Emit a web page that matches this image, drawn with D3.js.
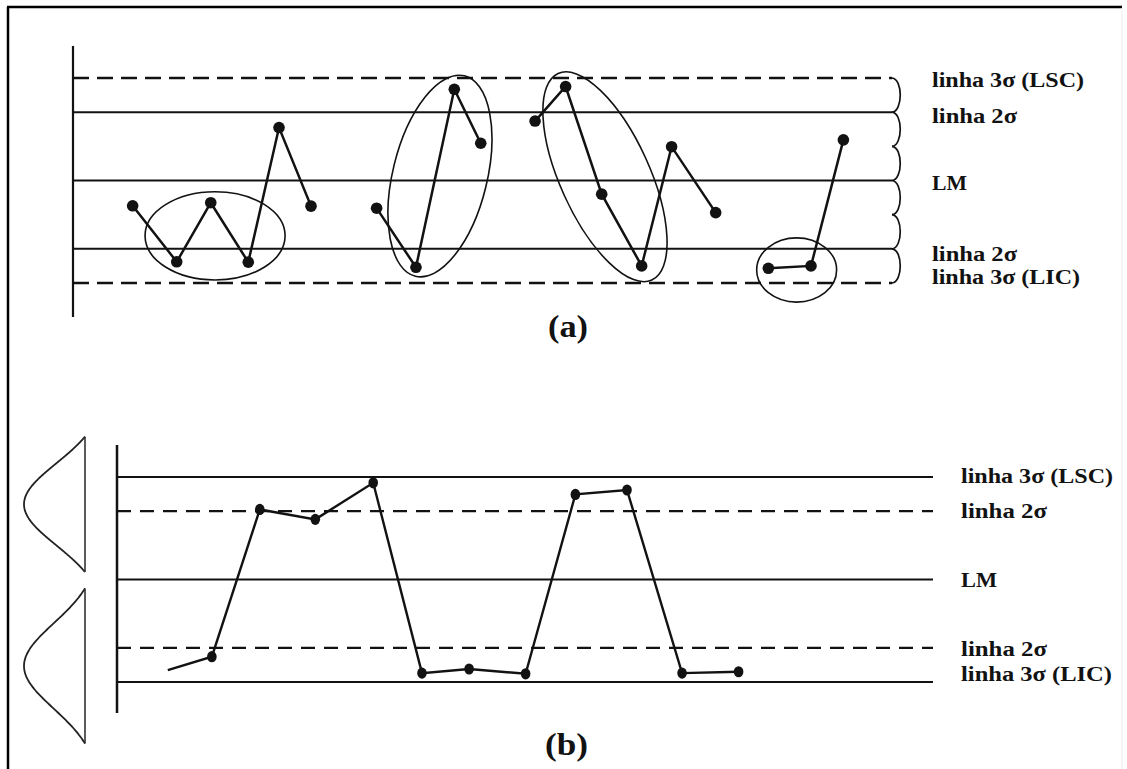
<!DOCTYPE html>
<html><head><meta charset="utf-8">
<script src="https://cdn.jsdelivr.net/npm/d3@7"></script>
<style>body{margin:0;background:#fff}svg{display:block}</style>
</head><body>
<svg id="c" width="1127" height="769"></svg>
<script>
// ---------- data ----------
const limitLevels = [3, 2, 0, -2, -3];            // control lines, in sigma units
const limitLabels = ["linha 3σ (LSC)", "linha 2σ", "LM", "linha 2σ", "linha 3σ (LIC)"];
const aLineDash = [true, false, false, false, true];
const bLineDash = [false, true, false, true, false];
const braceLevels = [3, 2, 1, 0, -1, -2, -3];

// chart (a): sample time, value (sigma), segment id
const aT = [2.91, 5.06, 6.72, 8.55, 10.05, 11.61, 14.81, 16.73, 18.6, 19.89, 22.54, 24.03, 25.79, 27.74, 29.2, 31.35, 33.92, 36.0, 37.58];
const aV = [-0.74, -2.38, -0.65, -2.39, 1.55, -0.75, -0.81, -2.54, 2.67, 1.09, 1.74, 2.75, -0.40, -2.50, 0.99, -0.94, -2.57, -2.50, 1.19];
const aSeg = [0, 0, 0, 0, 0, 0, 1, 1, 1, 1, 2, 2, 2, 2, 2, 2, 3, 3, 3];

// chart (a): ellipses (centre t, centre value, radii in sigma, rotation deg)
const ellT = [6.93, 17.9, 25.95, 35.3];
const ellV = [-1.62, 0.13, 0.11, -2.62];
const ellRx = [2.05, 1.38, 1.31, 1.17];
const ellRy = [1.29, 3.02, 3.32, 0.94];
const ellRot = [0, 13.75, -24.4, 0];

// chart (b)
const bT = [2.49, 4.65, 7.0, 9.72, 12.56, 14.95, 17.26, 20.03, 22.47, 25.0, 27.7, 30.47];
const bV = [-2.65, -2.26, 2.05, 1.76, 2.83, -2.74, -2.62, -2.76, 2.49, 2.62, -2.74, -2.70];
const bDot = [0, 1, 1, 1, 1, 1, 1, 1, 1, 1, 1, 1];

// chart (b): the two process distributions (mean, sd, drawn half-extent; sigma units)
const distMean = [2.2, -2.53];
const distSd = [1.2, 1.25];
const distExtent = [1.98, 2.27];

const panelLabels = ["(a)", "(b)"];

// ---------- layout ----------
const svg = d3.select("#c");
const ink = "#121212";
const font = "'Liberation Serif','Times New Roman',serif";

const ax = d3.scaleLinear().domain([0, 40]).range([73, 893]);
const ay = d3.scaleLinear().domain([-3, 3]).range([283, 78]);
const bx = d3.scaleLinear().domain([0, 40]).range([117, 933]);
const by = d3.scaleLinear().domain([-3, 3]).range([682, 477]);

// frame
svg.append("line").attr("x1", 8).attr("y1", 7).attr("x2", 8).attr("y2", 769).attr("stroke", "#000").attr("stroke-width", 2.5);
svg.append("line").attr("x1", 7).attr("y1", 7).attr("x2", 1122).attr("y2", 7).attr("stroke", "#000").attr("stroke-width", 2.5);
svg.append("line").attr("x1", 1122).attr("y1", 8).attr("x2", 1122).attr("y2", 769).attr("stroke", "#ececec").attr("stroke-width", 1);

// ===== chart (a) =====
const ga = svg.append("g");
ga.append("line").attr("x1", 73).attr("x2", 73).attr("y1", 46).attr("y2", 317).attr("stroke", ink).attr("stroke-width", 2.2);
ga.selectAll("line.lim").data(limitLevels).join("line").attr("class", "lim")
  .attr("x1", ax(0)).attr("x2", ax(40) - 1)
  .attr("y1", d => ay(d)).attr("y2", d => ay(d))
  .attr("stroke", ink).attr("stroke-width", (d, i) => aLineDash[i] ? 2.5 : 2.0)
  .attr("stroke-dasharray", (d, i) => aLineDash[i] ? "16 8" : null);

// braces on the right
const bx0 = ax(40) - 1;
for (let i = 0; i < braceLevels.length - 1; i++) {
  const y1 = ay(braceLevels[i]), y2 = ay(braceLevels[i + 1]);
  ga.append("path")
    .attr("d", `M${bx0},${y1} C${bx0 + 11},${y1 + 1} ${bx0 + 11},${y2 - 1} ${bx0},${y2}`)
    .attr("fill", "none").attr("stroke", ink).attr("stroke-width", 1.7);
}

// ellipses
const pxA = ay(0) - ay(1);
ellT.forEach((t, i) => {
  const cx = ax(t), cy = ay(ellV[i]);
  ga.append("ellipse").attr("cx", 0).attr("cy", 0)
    .attr("rx", ellRx[i] * pxA).attr("ry", ellRy[i] * pxA)
    .attr("transform", `translate(${cx},${cy}) rotate(${ellRot[i]})`)
    .attr("fill", "none").attr("stroke", ink).attr("stroke-width", 1.6);
});

// series
const aPts = aT.map((t, i) => ({ t, v: aV[i], s: aSeg[i] }));
const aLine = d3.line().x(d => ax(d.t)).y(d => ay(d.v));
d3.groups(aPts, d => d.s).forEach(([k, pts]) => {
  ga.append("path").attr("d", aLine(pts)).attr("fill", "none").attr("stroke", ink).attr("stroke-width", 2.5);
});
ga.selectAll("circle").data(aPts).join("circle")
  .attr("cx", d => ax(d.t)).attr("cy", d => ay(d.v)).attr("r", 5.8).attr("fill", ink);

// labels (a)
const aLabelDy = [8.5, 10.5, 9, 12, 0.5];
const aLabelLen = [152, 85, 35, 85, 148];
limitLevels.forEach((lv, i) => {
  ga.append("text").attr("x", 932).attr("y", ay(lv) + aLabelDy[i])
    .attr("font-family", font).attr("font-weight", "bold").attr("font-size", 20)
    .attr("fill", ink).attr("textLength", aLabelLen[i]).attr("lengthAdjust", "spacingAndGlyphs")
    .text(limitLabels[i]);
});

// ===== chart (b) =====
const gb = svg.append("g");
gb.append("line").attr("x1", 117).attr("x2", 117).attr("y1", 445).attr("y2", 713).attr("stroke", ink).attr("stroke-width", 2.5);
gb.selectAll("line.lim").data(limitLevels).join("line").attr("class", "lim")
  .attr("x1", bx(0)).attr("x2", bx(40))
  .attr("y1", d => by(d)).attr("y2", d => by(d))
  .attr("stroke", ink).attr("stroke-width", (d, i) => bLineDash[i] ? 2.3 : 2.1)
  .attr("stroke-dasharray", (d, i) => bLineDash[i] ? "14 9" : null);

// distributions on the left
const baseX = 85, amp = 61;
distMean.forEach((m, i) => {
  const sd = distSd[i], ext = distExtent[i];
  const tail = Math.exp(-0.5 * (ext / sd) * (ext / sd));
  const zs = d3.range(-ext, ext + 1e-9, ext / 60);
  const curve = d3.line().curve(d3.curveBasis)
    .x(z => baseX - amp * (Math.exp(-0.5 * (z / sd) * (z / sd)) - tail) / (1 - tail))
    .y(z => by(m + z));
  gb.append("path").attr("d", curve(zs)).attr("fill", "none").attr("stroke", "#222").attr("stroke-width", 1.8);
  gb.append("line").attr("x1", baseX).attr("x2", baseX)
    .attr("y1", by(m + ext)).attr("y2", by(m - ext)).attr("stroke", "#333").attr("stroke-width", 1.6);
});

const bPts = bT.map((t, i) => ({ t, v: bV[i], dot: bDot[i] }));
const bLine = d3.line().x(d => bx(d.t)).y(d => by(d.v));
gb.append("path").attr("d", bLine(bPts)).attr("fill", "none").attr("stroke", ink).attr("stroke-width", 2.4);
gb.selectAll("ellipse").data(bPts.filter(d => d.dot)).join("ellipse")
  .attr("cx", d => bx(d.t)).attr("cy", d => by(d.v)).attr("rx", 4.8).attr("ry", 5.6).attr("fill", ink);

const bLabelDy = [6, 7, 7, 8, -1.5];
const bLabelLen = [152, 86, 36, 86, 151];
limitLevels.forEach((lv, i) => {
  gb.append("text").attr("x", 961).attr("y", by(lv) + bLabelDy[i])
    .attr("font-family", font).attr("font-weight", "bold").attr("font-size", 20)
    .attr("fill", ink).attr("textLength", bLabelLen[i]).attr("lengthAdjust", "spacingAndGlyphs")
    .text(limitLabels[i]);
});

// panel labels
svg.append("text").attr("x", 548).attr("y", 337).attr("font-family", font).attr("font-weight", "bold")
  .attr("font-size", 31).attr("fill", ink).attr("textLength", 40).attr("lengthAdjust", "spacingAndGlyphs").text(panelLabels[0]);
svg.append("text").attr("x", 545).attr("y", 755).attr("font-family", font).attr("font-weight", "bold")
  .attr("font-size", 31).attr("fill", ink).attr("textLength", 43).attr("lengthAdjust", "spacingAndGlyphs").text(panelLabels[1]);
</script>
</body></html>
